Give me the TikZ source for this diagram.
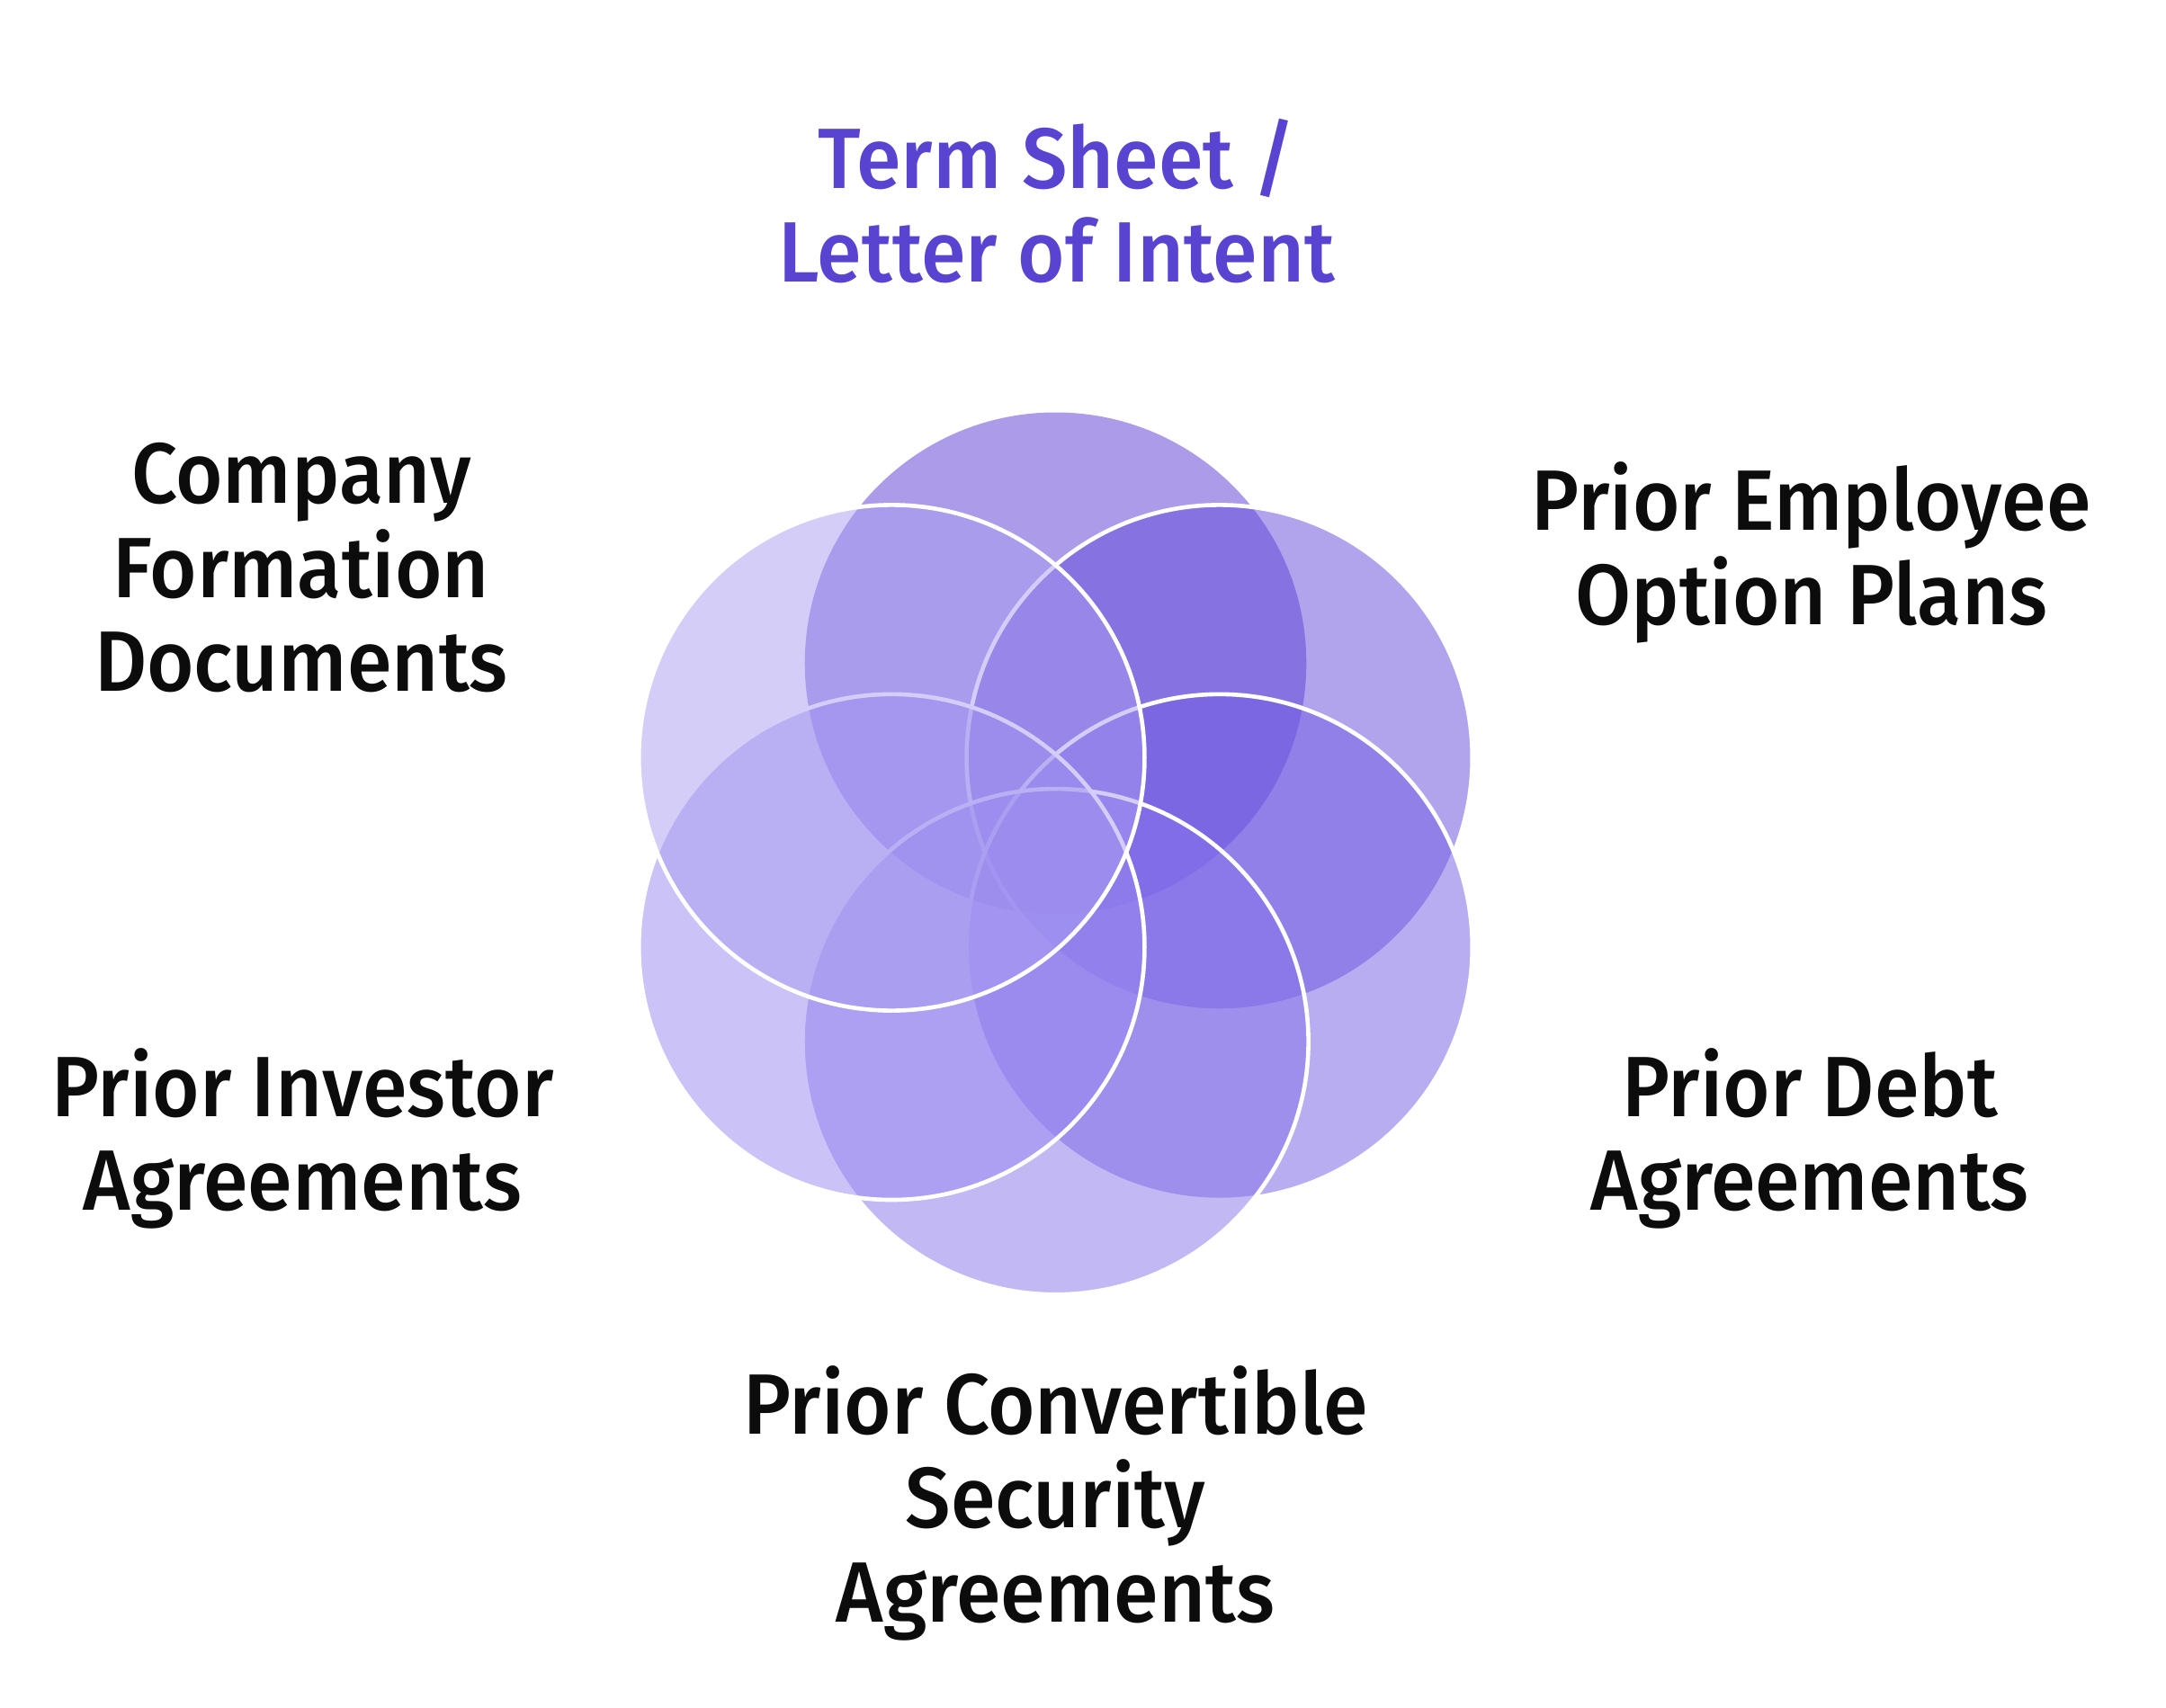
\documentclass[tikz,border=0pt]{standalone}
\usepackage{fontspec}
\setmainfont{Fira Sans Medium}[FakeStretch=0.945]
\definecolor{ptop}{RGB}{89,57,213}
\definecolor{pur}{RGB}{101,75,221}
\definecolor{plr}{RGB}{115,93,229}
\definecolor{pbot}{RGB}{135,115,235}
\definecolor{pll}{RGB}{153,137,241}
\definecolor{pul}{RGB}{169,157,241}
\definecolor{titlepurple}{RGB}{88,68,208}
\definecolor{labelblack}{RGB}{12,12,12}
\begin{document}
\begin{tikzpicture}[x=1pt,y=-1pt]
\tikzset{
  petalring/.style={fill opacity=0.5,draw=white,line width=3pt},
  lbl/.style={align=center,inner sep=0pt,font=\fontsize{62}{68}\selectfont,text=labelblack},
  ttl/.style={lbl,text=titlepurple}
}
\useasboundingbox (0,0) rectangle (1567.7,1235.7);
\fill[white] (0,0) rectangle (1567.7,1235.7);
% circle centres
\coordinate (ctop) at (764,480);
\coordinate (cur)  at (882.6,548.5);
\coordinate (clr)  at (882.6,685.5);
\coordinate (cbot) at (764,754);
\coordinate (cll)  at (645.4,685.5);
\coordinate (cul)  at (645.4,548.5);
% petals in drawing order
\path[fill=ptop,fill opacity=0.5] (ctop) circle (181.5);
\path[petalring,fill=pur]  (cur)  circle (183);
\path[petalring,fill=plr]  (clr)  circle (183);
\path[petalring,fill=pbot] (cbot) circle (183);
\path[petalring,fill=pll]  (cll)  circle (183);
\path[petalring,fill=pul]  (cul)  circle (183);
% labels
\node[ttl] (term) at (765,145.5) {Term Sheet /\\Letter of Intent};
\node[lbl] (formation) at (218,411) {Company\\Formation\\Documents};
\node[lbl] (employee) at (1311,400) {Prior Employee\\Option Plans};
\node[lbl] (investor) at (219,824) {Prior Investor\\Agreements};
\node[lbl] (debt) at (1310,824) {Prior Debt\\Agreements};
\node[lbl] (convertible) at (764,1088) {Prior Convertible\\Security\\Agreements};
\end{tikzpicture}
\end{document}
